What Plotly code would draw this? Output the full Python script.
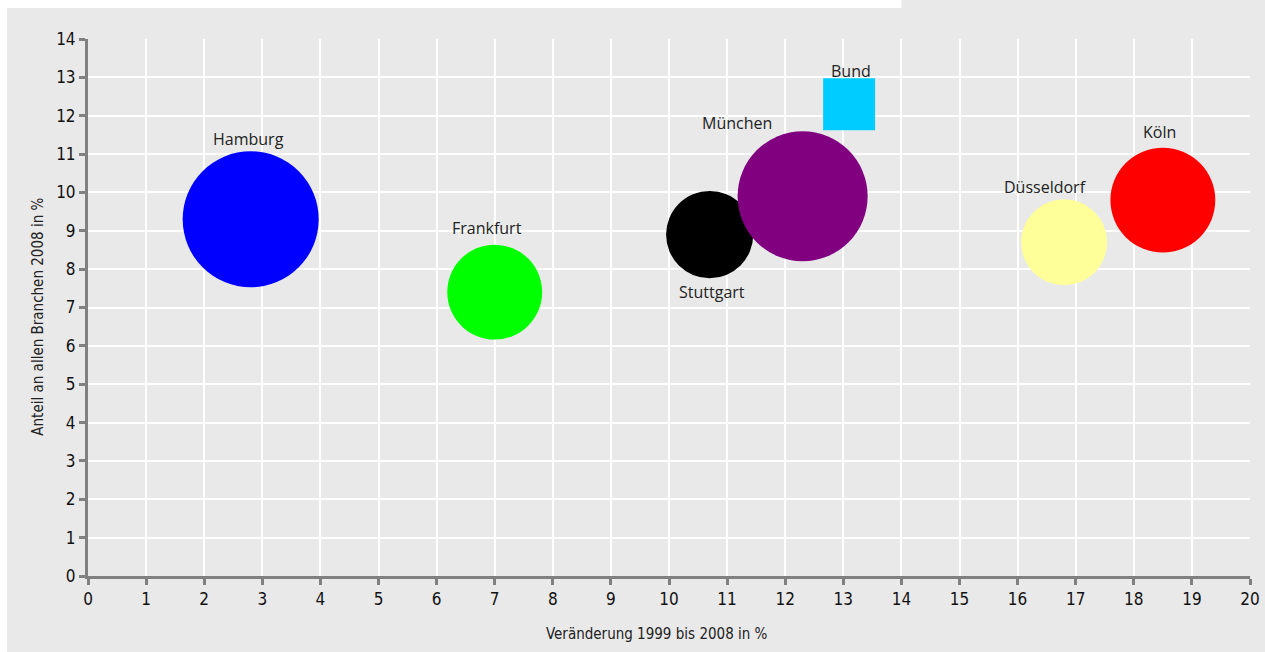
import plotly.graph_objects as go

# Regional data: change 1999-2008 (%), share of all branches 2008 (%), bubble weight
cities = ["Hamburg", "Frankfurt", "Stuttgart", "München", "Bund", "Düsseldorf", "Köln"]
change_pct = [2.8, 7.0, 10.7, 12.3, 13.1, 16.8, 18.5]
share_pct = [9.3, 7.4, 8.9, 9.9, 12.3, 8.7, 9.8]
weight = [185, 90, 76, 169, 27, 74, 110]
colors = ["#0000ff", "#00ff00", "#000000", "#800080", "#00ccff", "#ffff99", "#ff0000"]
symbols = ["circle", "circle", "circle", "circle", "square", "circle", "circle"]

x_ticks = list(range(0, 21))
y_ticks = list(range(0, 15))

# pixel offsets of each name label relative to its marker centre
label_offset = {
    "Hamburg": (-2, 80),
    "Frankfurt": (-8, 64),
    "Stuttgart": (2, -57),
    "München": (-66, 73),
    "Bund": (2, 33),
    "Düsseldorf": (-19, 55),
    "Köln": (-3, 68),
}

PANEL = "#e9e9e9"
AXIS = "#808080"
TICK_FONT = dict(family="DejaVu Sans Condensed", size=17, color="#111111")
LABEL_FONT = dict(family="Open Sans", size=16, color="#222222")
TITLE_FONT = dict(family="DejaVu Sans Condensed", size=15, color="#222222")

fig = go.Figure()
fig.add_trace(go.Scatter(
    x=change_pct,
    y=share_pct,
    mode="markers",
    marker=dict(
        size=weight,
        sizemode="area",
        sizeref=0.02,
        color=colors,
        symbol=symbols,
        opacity=1,
        line=dict(width=0),
    ),
    text=cities,
    hoverinfo="text",
    showlegend=False,
    cliponaxis=False,
))

annotations = []
for name, xv, yv in zip(cities, change_pct, share_pct):
    dx, dy = label_offset[name]
    annotations.append(dict(
        x=xv, y=yv, xref="x", yref="y", text=name, showarrow=False,
        xshift=dx, yshift=dy, font=LABEL_FONT,
        xanchor="center", yanchor="middle",
    ))

annotations.append(dict(
    x=0.4897, y=-0.108, xref="paper", yref="paper",
    text="Veränderung 1999 bis 2008 in %", showarrow=False,
    font=TITLE_FONT, xanchor="center", yanchor="middle",
))
annotations.append(dict(
    x=-0.043, y=0.483, xref="paper", yref="paper",
    text="Anteil an allen Branchen 2008 in %", showarrow=False,
    textangle=-90, font=TITLE_FONT, xanchor="center", yanchor="middle",
))

shapes = [
    # grey panel behind the whole chart
    dict(type="rect", xref="paper", yref="paper", layer="below",
         x0=-0.0697, x1=1.02, y0=-0.15, y1=1.08,
         fillcolor=PANEL, line=dict(width=0)),
    # white title strip along the top-left
    dict(type="rect", xref="paper", yref="paper", layer="below",
         x0=-0.08, x1=0.70, y0=1.0577, y1=1.08,
         fillcolor="white", line=dict(width=0)),
]

fig.update_layout(
    width=1265,
    height=652,
    margin=dict(l=88, r=15, t=39, b=76),
    paper_bgcolor="white",
    plot_bgcolor=PANEL,
    shapes=shapes,
    annotations=annotations,
    xaxis=dict(
        range=[0, 20],
        tickmode="array",
        tickvals=x_ticks,
        ticktext=[str(v) for v in x_ticks],
        showgrid=True, gridcolor="white", gridwidth=2,
        zeroline=False,
        showline=True, linecolor=AXIS, linewidth=3,
        ticks="outside", ticklen=6, tickwidth=3, tickcolor=AXIS,
        tickfont=TICK_FONT,
        ticklabeloverflow="allow",
        automargin=False,
        fixedrange=True,
    ),
    yaxis=dict(
        range=[0, 14],
        tickmode="array",
        tickvals=y_ticks,
        ticktext=[str(v) for v in y_ticks],
        showgrid=True, gridcolor="white", gridwidth=2,
        zeroline=False,
        showline=True, linecolor=AXIS, linewidth=3,
        ticks="outside", ticklen=6, tickwidth=3, tickcolor=AXIS,
        tickfont=TICK_FONT,
        automargin=False,
        fixedrange=True,
    ),
)

fig.write_html("out.html")
